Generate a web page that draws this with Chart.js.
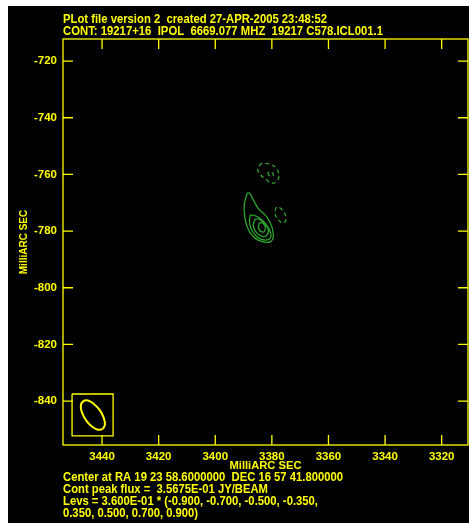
<!DOCTYPE html>
<html>
<head>
<meta charset="utf-8">
<script src="https://cdn.jsdelivr.net/npm/chart.js@4.4.1/dist/chart.umd.min.js"></script>
<style>
    html, body { margin: 0; background: #fff; }
    #wrap { position: absolute; left: 8px; top: 6px; width: 461px; height: 517px; background: #000; }
</style>
</head>
<body>
<div id="wrap"><canvas id="plot"></canvas></div>
<script>
// header / footer text
const headerLines = [
    'PLot file version 2  created 27-APR-2005 23:48:52',
    'CONT: 19217+16  IPOL  6669.077 MHZ  19217 C578.ICL001.1'
];
const footerLines = [
    'Center at RA 19 23 58.6000000  DEC 16 57 41.800000',
    'Cont peak flux =  3.5675E-01 JY/BEAM',
    'Levs = 3.600E-01 * (-0.900, -0.700, -0.500, -0.350,',
    '0.350, 0.500, 0.700, 0.900)'
];

// axes (MilliARC SEC)
const xTickVals = [3440, 3420, 3400, 3380, 3360, 3340, 3320];
const yTickVals = [-720, -740, -760, -780, -800, -820, -840];
const xRange = [3310.7, 3453.8];
const yRange = [-855.5, -712.2];

// contours (x = RA offset, y = DEC offset)
const levPos035 = [
    {x: 3388.7, y: -766.5}, {x: 3389.7, y: -770.2}, {x: 3389.7, y: -773.8}, {x: 3389.1, y: -777.3},
    {x: 3388.0, y: -780.0}, {x: 3386.5, y: -782.0}, {x: 3384.9, y: -783.2}, {x: 3383.0, y: -783.8},
    {x: 3380.6, y: -783.8}, {x: 3379.5, y: -782.0}, {x: 3380.0, y: -778.5}, {x: 3381.8, y: -775.0},
    {x: 3384.8, y: -772.0}, {x: 3386.5, y: -769.1}, {x: 3387.9, y: -766.6}, {x: 3388.7, y: -766.5}
];
const levPos050 = [
    {x: 3387.7, y: -774.4}, {x: 3387.9, y: -776.7}, {x: 3387.1, y: -779.7}, {x: 3384.8, y: -782.4},
    {x: 3382.4, y: -783.2}, {x: 3380.6, y: -782.6}, {x: 3380.4, y: -780.6}, {x: 3381.8, y: -777.9},
    {x: 3384.2, y: -775.5}, {x: 3386.5, y: -774.4}, {x: 3387.7, y: -774.4}
];
const levPos070 = [
    {x: 3385.9, y: -775.8}, {x: 3386.6, y: -777.9}, {x: 3385.6, y: -780.4}, {x: 3383.5, y: -781.9},
    {x: 3381.7, y: -781.4}, {x: 3381.3, y: -779.3}, {x: 3382.8, y: -777.2}, {x: 3384.5, y: -775.8},
    {x: 3385.9, y: -775.8}
];
const levPos090 = [
    {x: 3384.5, y: -777.2}, {x: 3384.7, y: -779.0}, {x: 3383.8, y: -780.2}, {x: 3382.6, y: -780.0},
    {x: 3382.4, y: -778.3}, {x: 3383.5, y: -777.0}, {x: 3384.5, y: -777.2}
];
const levNeg035a = [
    {x: 3383.6, y: -756.0}, {x: 3385.0, y: -757.9}, {x: 3384.2, y: -759.9}, {x: 3382.0, y: -761.8},
    {x: 3379.6, y: -763.1}, {x: 3377.6, y: -761.3}, {x: 3378.2, y: -758.1}, {x: 3380.6, y: -756.4},
    {x: 3383.6, y: -756.0}
];
const levNeg050a = [
    {x: 3381.5, y: -759.4}, {x: 3380.9, y: -760.4}, {x: 3379.7, y: -760.6}, {x: 3379.6, y: -759.7},
    {x: 3380.6, y: -759.0}, {x: 3381.5, y: -759.4}
];
const levNeg035b = [
    {x: 3378.5, y: -771.5}, {x: 3378.9, y: -773.7}, {x: 3377.8, y: -775.9}, {x: 3376.0, y: -777.2},
    {x: 3375.0, y: -775.8}, {x: 3375.7, y: -773.3}, {x: 3377.3, y: -771.7}, {x: 3378.5, y: -771.5}
];

// restoring beam and its box
const beamShape = [
    {x: 3439.8, y: -849.9}, {x: 3441.5, y: -850.1}, {x: 3443.7, y: -848.9}, {x: 3445.7, y: -846.7},
    {x: 3447.1, y: -844.0}, {x: 3447.5, y: -841.6}, {x: 3446.7, y: -840.1}, {x: 3445.0, y: -839.8},
    {x: 3442.9, y: -841.0}, {x: 3440.8, y: -843.2}, {x: 3439.4, y: -845.9}, {x: 3439.0, y: -848.4},
    {x: 3439.8, y: -849.9}
];
const beamBox = [
    {x: 3450.6, y: -837.5}, {x: 3436.1, y: -837.5}, {x: 3436.1, y: -852.3},
    {x: 3450.6, y: -852.3}, {x: 3450.6, y: -837.5}
];

const YELLOW = '#ffff00';
const GREEN = '#2ea52e';
const FONT = "'Liberation Sans', Arial, sans-serif";

function contour(data, dashed) {
    return {
        data: data,
        showLine: true,
        pointRadius: 0,
        borderColor: GREEN,
        borderWidth: 1.3,
        tension: 0.4,
        borderDash: dashed ? [4, 3] : []
    };
}

// draw text squeezed/stretched to a given width
function fitText(ctx, text, x, y, w) {
    const m = ctx.measureText(text).width;
    ctx.save();
    ctx.translate(x, y);
    ctx.scale(w / m, 1);
    ctx.fillText(text, 0, 0);
    ctx.restore();
}

const framePlugin = {
    id: 'frame',
    afterDatasetsDraw(chart) {
        const {ctx, chartArea: a, scales} = chart;
        const tl = 10;
        ctx.save();
        ctx.strokeStyle = YELLOW;
        ctx.lineWidth = 1.3;
        ctx.strokeRect(a.left, a.top, a.right - a.left, a.bottom - a.top);
        ctx.beginPath();
        xTickVals.forEach(v => {
            const px = scales.x.getPixelForValue(v);
            ctx.moveTo(px, a.bottom); ctx.lineTo(px, a.bottom - tl);
            ctx.moveTo(px, a.top); ctx.lineTo(px, a.top + tl);
        });
        yTickVals.forEach(v => {
            const py = scales.y.getPixelForValue(v);
            ctx.moveTo(a.left, py); ctx.lineTo(a.left + tl, py);
            ctx.moveTo(a.right, py); ctx.lineTo(a.right - tl, py);
        });
        ctx.stroke();
        ctx.restore();
    },
    afterDraw(chart) {
        const ctx = chart.ctx;
        ctx.save();
        ctx.fillStyle = YELLOW;
        ctx.font = 'bold 12px ' + FONT;
        ctx.textBaseline = 'alphabetic';
        const hw = [264, 320];
        headerLines.forEach((t, i) => fitText(ctx, t, 55, 17 + i * 11.5, hw[i]));
        const fw = [280, 205, 255, 135];
        footerLines.forEach((t, i) => fitText(ctx, t, 55, 474.7 + i * 12.2, fw[i]));
        ctx.restore();
    }
};

new Chart(document.getElementById('plot'), {
    type: 'scatter',
    data: {
        datasets: [
            contour(levPos035, false),
            contour(levPos050, false),
            contour(levPos070, false),
            contour(levPos090, false),
            contour(levNeg035a, true),
            contour(levNeg050a, true),
            contour(levNeg035b, true),
            {data: beamShape, showLine: true, pointRadius: 0, borderColor: YELLOW, borderWidth: 2, tension: 0.4},
            {data: beamBox, showLine: true, pointRadius: 0, borderColor: YELLOW, borderWidth: 1.3, tension: 0}
        ]
    },
    options: {
        responsive: true,
        maintainAspectRatio: false,
        animation: false,
        layout: { padding: { top: 33, right: 1, left: 0, bottom: 0 } },
        plugins: { legend: { display: false }, tooltip: { enabled: false } },
        scales: {
            x: {
                type: 'linear',
                reverse: true,
                min: xRange[0],
                max: xRange[1],
                afterBuildTicks: s => { s.ticks = xTickVals.map(v => ({value: v})); },
                afterFit: s => { s.height = 78; },
                grid: { display: false, drawTicks: false },
                border: { display: false },
                ticks: {
                    color: YELLOW, padding: 5, autoSkip: false, maxRotation: 0,
                    callback: v => String(v),
                    font: { family: FONT, size: 11.5, weight: 'bold' }
                },
                title: {
                    display: true, text: 'MilliARC SEC', color: YELLOW,
                    font: { family: FONT, size: 11.2, weight: 'bold' },
                    padding: { top: 0, bottom: 50 }
                }
            },
            y: {
                type: 'linear',
                min: yRange[0],
                max: yRange[1],
                afterBuildTicks: s => { s.ticks = yTickVals.map(v => ({value: v})); },
                afterFit: s => { s.width = 55; },
                grid: { display: false, drawTicks: false },
                border: { display: false },
                ticks: {
                    color: YELLOW, padding: 6, autoSkip: false,
                    callback: v => String(v),
                    font: { family: FONT, size: 11.5, weight: 'bold' }
                },
                title: {
                    display: true, text: 'MilliARC SEC', color: YELLOW,
                    font: { family: FONT, size: 10, weight: 'bold' },
                    padding: { top: 10, bottom: 0 }
                }
            }
        }
    },
    plugins: [framePlugin]
});
</script>
</body>
</html>
